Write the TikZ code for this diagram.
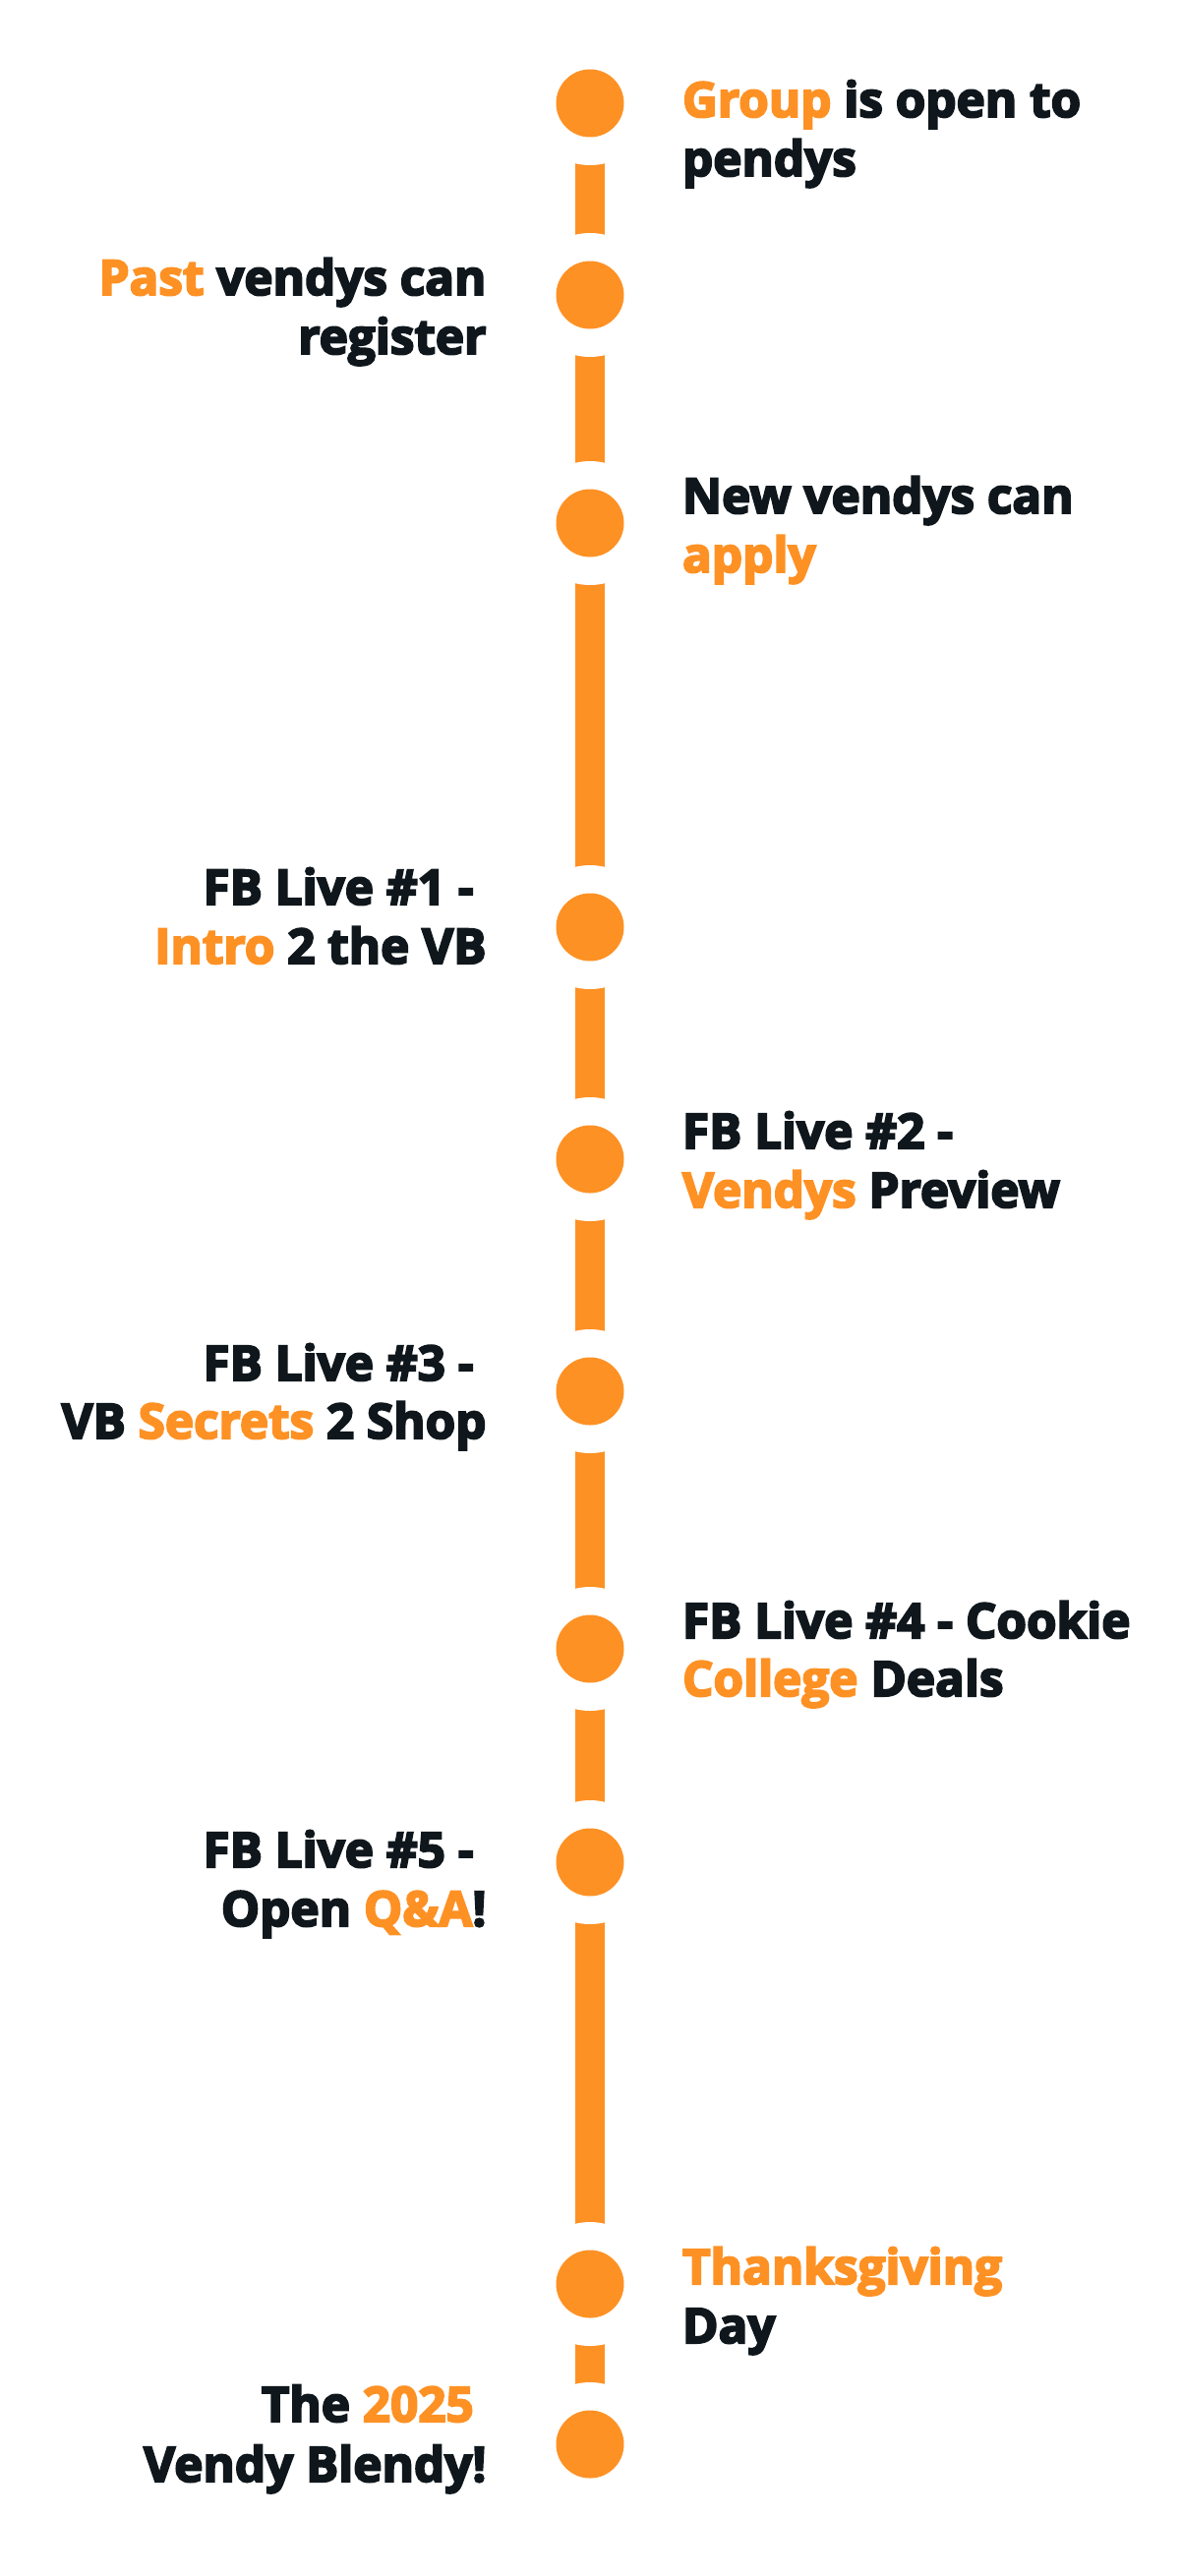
\documentclass[tikz,border=0pt]{standalone}
\usepackage{fontspec}
\setmainfont{Open Sans}[BoldFeatures={FakeBold=4}]
\definecolor{vbor}{RGB}{254,145,36}
\definecolor{vbdk}{RGB}{15,23,28}
\newcommand{\hl}[1]{\textcolor{vbor}{#1}}
\newcommand{\tsp}{\hspace*{0.26em}}
\pgfdeclarelayer{bgl}
\pgfdeclarelayer{lines}
\pgfsetlayers{bgl,lines,main}
\tikzset{
  halo/.style={circle, fill=white, minimum size=126pt, inner sep=0pt, outer sep=0pt},
  dot/.style={circle, fill=vbor, minimum size=69pt, inner sep=0pt, outer sep=0pt},
  seg/.style={draw=vbor, line width=30pt},
  lbl/.style={inner sep=0pt, outer sep=0pt, text=vbdk, font=\fontsize{49.4}{60}\selectfont\bfseries},
  rlbl/.style={lbl, anchor=base west},
  llbl/.style={lbl, anchor=base east}
}
\begin{document}
\begin{tikzpicture}[x=1pt,y=-1pt]
\useasboundingbox (0,0) rectangle (1200,2620);
\begin{pgfonlayer}{bgl}
\fill[white] (0,0) rectangle (1200,2620);
\end{pgfonlayer}
% halos
\node[halo] (h1) at (600,105) {};
\node[halo] (h2) at (600,300) {};
\node[halo] (h3) at (600,532) {};
\node[halo] (h4) at (600,943) {};
\node[halo] (h5) at (600,1179) {};
\node[halo] (h6) at (600,1415) {};
\node[halo] (h7) at (600,1677) {};
\node[halo] (h8) at (600,1894) {};
\node[halo] (h9) at (600,2323) {};
\node[halo] (h10) at (600,2486) {};
% connectors
\begin{pgfonlayer}{lines}
\foreach \a/\b in {h1/h2,h2/h3,h3/h4,h4/h5,h5/h6,h6/h7,h7/h8,h8/h9,h9/h10}
  \draw[seg] (\a.center) -- (\b.center);
\end{pgfonlayer}
% dots
\node[dot] (c1) at (h1) {};
\node[dot] (c2) at (h2) {};
\node[dot] (c3) at (h3) {};
\node[dot] (c4) at (h4) {};
\node[dot] (c5) at (h5) {};
\node[dot] (c6) at (h6) {};
\node[dot] (c7) at (h7) {};
\node[dot] (c8) at (h8) {};
\node[dot] (c9) at (h9) {};
\node[dot] (c10) at (h10) {};
% labels
\node[rlbl] (t1a) at (694,119) {\hl{Group} is open to};
\node[rlbl] (t1b) at (694,179) {pendys};
\node[llbl] (t2a) at (494.5,300) {\hl{Past} vendys can};
\node[llbl] (t2b) at (494.5,360) {register};
\node[rlbl] (t3a) at (694,522) {New vendys can};
\node[rlbl] (t3b) at (694,582) {\hl{apply}};
\node[llbl] (t4a) at (494.5,920) {FB Live \#1 -\tsp};
\node[llbl] (t4b) at (494.5,980) {\hl{Intro} 2 the VB};
\node[rlbl] (t5a) at (694,1168) {FB Live \#2 -};
\node[rlbl] (t5b) at (694,1228) {\hl{Vendys} Preview};
\node[llbl] (t6a) at (494.5,1404) {FB Live \#3 -\tsp};
\node[llbl] (t6b) at (494.5,1463) {VB \hl{Secrets} 2 Shop};
\node[rlbl] (t7a) at (694,1666) {FB Live \#4 - Cookie};
\node[rlbl] (t7b) at (694,1725) {\hl{College} Deals};
\node[llbl] (t8a) at (494.5,1899) {FB Live \#5 -\tsp};
\node[llbl] (t8b) at (494.5,1959) {Open \hl{Q\&A}!};
\node[rlbl] (t9a) at (694,2323) {\hl{Thanksgiving}};
\node[rlbl] (t9b) at (694,2383) {Day};
\node[llbl] (t10a) at (494.5,2463) {The \hl{2025}\tsp};
\node[llbl] (t10b) at (494.5,2524) {Vendy Blendy!};
\end{tikzpicture}
\end{document}
